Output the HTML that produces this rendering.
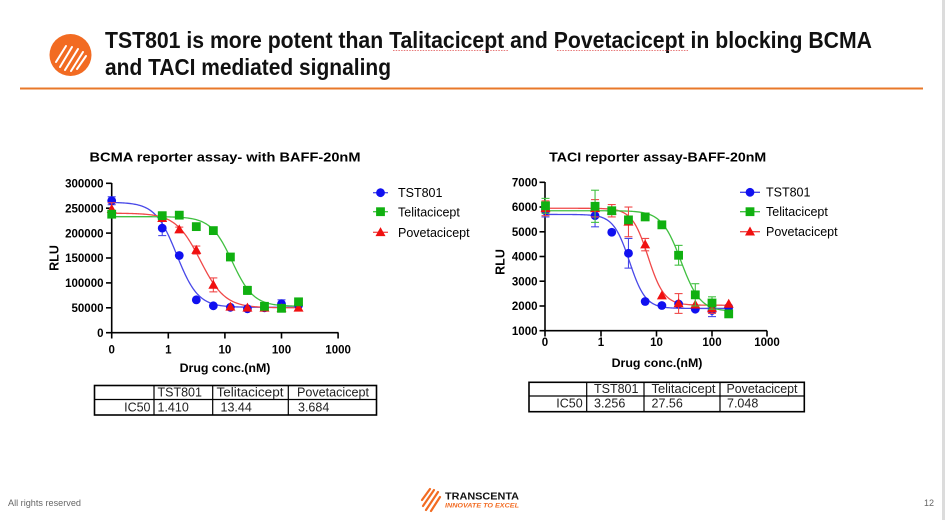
<!DOCTYPE html>
<html><head><meta charset="utf-8">
<style>
html,body{margin:0;padding:0;background:#fff;}
svg{display:block;}
text{font-family:"Liberation Sans",Arial,sans-serif;}
</style></head>
<body>
<svg id="s" width="945" height="520" viewBox="0 0 945 520" xmlns="http://www.w3.org/2000/svg">
<rect width="945" height="520" fill="#fff"/>
<!-- right border -->
<rect x="942" y="0" width="3" height="520" fill="#dcdcdc"/>

<!-- header logo -->
<circle cx="70.5" cy="55" r="21" fill="#F26B22"/>
<g stroke="#fff" stroke-width="2" stroke-linecap="round" fill="none">
  <path d="M56 62 L66 46"/>
  <path d="M60 67 L72 47"/>
  <path d="M65 70 L78 49"/>
  <path d="M71 71 L83 52"/>
  <path d="M77 69 L86 56"/>
</g>

<!-- title -->
<text x="105" y="48" font-size="23" font-weight="bold" fill="#111" textLength="767" lengthAdjust="spacingAndGlyphs">TST801 is more potent than Talitacicept and Povetacicept in blocking BCMA</text>
<text x="105" y="75" font-size="23" font-weight="bold" fill="#111" textLength="286" lengthAdjust="spacingAndGlyphs">and TACI mediated signaling</text>
<line x1="393" y1="50.5" x2="508" y2="50.5" stroke="#e05050" stroke-width="0.8" stroke-dasharray="1.5,1.2"/>
<line x1="557" y1="50.5" x2="688" y2="50.5" stroke="#e05050" stroke-width="0.8" stroke-dasharray="1.5,1.2"/>
<rect x="20" y="87.5" width="903" height="2" fill="#E8782A"/>

<!-- ========== BCMA chart ========== -->
<text x="225" y="161.5" font-size="13" font-weight="bold" text-anchor="middle" fill="#000" textLength="271" lengthAdjust="spacingAndGlyphs">BCMA reporter assay- with BAFF-20nM</text>
<g stroke="#000" stroke-width="1.6" fill="none">
  <line x1="111.7" y1="183" x2="111.7" y2="333.5"/>
  <line x1="110.9" y1="332.7" x2="338.5" y2="332.7"/>
  <line x1="106" y1="183.3" x2="111.7" y2="183.3"/>
  <line x1="106" y1="208.2" x2="111.7" y2="208.2"/>
  <line x1="106" y1="233.1" x2="111.7" y2="233.1"/>
  <line x1="106" y1="258" x2="111.7" y2="258"/>
  <line x1="106" y1="282.9" x2="111.7" y2="282.9"/>
  <line x1="106" y1="307.8" x2="111.7" y2="307.8"/>
  <line x1="106" y1="332.7" x2="111.7" y2="332.7"/>
  <line x1="111.7" y1="332.7" x2="111.7" y2="338.5"/>
  <line x1="168.3" y1="332.7" x2="168.3" y2="338.5"/>
  <line x1="224.9" y1="332.7" x2="224.9" y2="338.5"/>
  <line x1="281.5" y1="332.7" x2="281.5" y2="338.5"/>
  <line x1="338.1" y1="332.7" x2="338.1" y2="338.5"/>
</g>
<g font-size="11.5" font-weight="bold" text-anchor="end" fill="#000">
  <text x="103.5" y="187.5">300000</text>
  <text x="103.5" y="212.4">250000</text>
  <text x="103.5" y="237.3">200000</text>
  <text x="103.5" y="262.2">150000</text>
  <text x="103.5" y="287.1">100000</text>
  <text x="103.5" y="312">50000</text>
  <text x="103.5" y="336.9">0</text>
</g>
<g font-size="11.5" font-weight="bold" text-anchor="middle" fill="#000">
  <text x="111.7" y="353.5">0</text>
  <text x="168.3" y="353.5">1</text>
  <text x="224.9" y="353.5">10</text>
  <text x="281.5" y="353.5">100</text>
  <text x="338.1" y="353.5">1000</text>
</g>
<text x="225" y="372" font-size="12.4" font-weight="bold" text-anchor="middle">Drug conc.(nM)</text>
<text x="0" y="0" font-size="12.5" font-weight="bold" text-anchor="middle" transform="translate(58.5,258) rotate(-90)">RLU</text>
<g id="bcma"></g>
<!-- legend -->
<g font-size="12.5" fill="#000">
  <text x="398" y="197">TST801</text>
  <text x="398" y="216.3">Telitacicept</text>
  <text x="398" y="236.8">Povetacicept</text>
</g>
<g id="bcmaLeg"></g>

<!-- BCMA table -->
<g stroke="#000" fill="none">
  <rect x="94.5" y="385.5" width="282" height="29.5" stroke-width="1.6"/>
  <line x1="94.5" y1="399.5" x2="376.5" y2="399.5" stroke-width="1.2"/>
  <line x1="154" y1="385.5" x2="154" y2="415" stroke-width="1.2"/>
  <line x1="212.7" y1="385.5" x2="212.7" y2="415" stroke-width="1.2"/>
  <line x1="288.3" y1="385.5" x2="288.3" y2="415" stroke-width="1.2"/>
</g>
<g font-size="12.5" fill="#222">
  <text x="157.5" y="396.5">TST801</text>
  <text x="216.5" y="396.5" textLength="67" lengthAdjust="spacingAndGlyphs">Telitacicept</text>
  <text x="297" y="396.5" textLength="72" lengthAdjust="spacingAndGlyphs">Povetacicept</text>
  <text x="150.5" y="411.5" text-anchor="end">IC50</text>
  <text x="157.5" y="411.5">1.410</text>
  <text x="220.5" y="411.5">13.44</text>
  <text x="298" y="411.5">3.684</text>
</g>

<!-- ========== TACI chart ========== -->
<text x="657.7" y="161.5" font-size="13" font-weight="bold" text-anchor="middle" fill="#000" textLength="217" lengthAdjust="spacingAndGlyphs">TACI reporter assay-BAFF-20nM</text>
<g stroke="#000" stroke-width="1.6" fill="none">
  <line x1="545" y1="182" x2="545" y2="331.5"/>
  <line x1="544.2" y1="330.7" x2="767" y2="330.7"/>
  <line x1="539.5" y1="182.3" x2="545" y2="182.3"/>
  <line x1="539.5" y1="207" x2="545" y2="207"/>
  <line x1="539.5" y1="231.8" x2="545" y2="231.8"/>
  <line x1="539.5" y1="256.5" x2="545" y2="256.5"/>
  <line x1="539.5" y1="281.2" x2="545" y2="281.2"/>
  <line x1="539.5" y1="306" x2="545" y2="306"/>
  <line x1="539.5" y1="330.7" x2="545" y2="330.7"/>
  <line x1="545" y1="330.7" x2="545" y2="336.5"/>
  <line x1="601" y1="330.7" x2="601" y2="336.5"/>
  <line x1="656.5" y1="330.7" x2="656.5" y2="336.5"/>
  <line x1="712" y1="330.7" x2="712" y2="336.5"/>
  <line x1="767" y1="330.7" x2="767" y2="336.5"/>
</g>
<g font-size="11.5" font-weight="bold" text-anchor="end" fill="#000">
  <text x="537.5" y="186.5">7000</text>
  <text x="537.5" y="211.2">6000</text>
  <text x="537.5" y="236">5000</text>
  <text x="537.5" y="260.7">4000</text>
  <text x="537.5" y="285.4">3000</text>
  <text x="537.5" y="310.2">2000</text>
  <text x="537.5" y="334.9">1000</text>
</g>
<g font-size="11.5" font-weight="bold" text-anchor="middle" fill="#000">
  <text x="545" y="346">0</text>
  <text x="601" y="346">1</text>
  <text x="656.5" y="346">10</text>
  <text x="712" y="346">100</text>
  <text x="767" y="346">1000</text>
</g>
<text x="657" y="367" font-size="12.4" font-weight="bold" text-anchor="middle">Drug conc.(nM)</text>
<text x="0" y="0" font-size="12.5" font-weight="bold" text-anchor="middle" transform="translate(504.5,262) rotate(-90)">RLU</text>
<g id="taci"></g>
<g font-size="12.5" fill="#000">
  <text x="766" y="196.5">TST801</text>
  <text x="766" y="216">Telitacicept</text>
  <text x="766" y="236">Povetacicept</text>
</g>
<g id="taciLeg"></g>

<!-- TACI table -->
<g stroke="#000" fill="none">
  <rect x="529" y="382.3" width="275.3" height="29.4" stroke-width="1.6"/>
  <line x1="529" y1="396" x2="804.3" y2="396" stroke-width="1.2"/>
  <line x1="586.7" y1="382.3" x2="586.7" y2="411.7" stroke-width="1.2"/>
  <line x1="644" y1="382.3" x2="644" y2="411.7" stroke-width="1.2"/>
  <line x1="720" y1="382.3" x2="720" y2="411.7" stroke-width="1.2"/>
</g>
<g font-size="12.5" fill="#222">
  <text x="594" y="393">TST801</text>
  <text x="651.5" y="393" textLength="64" lengthAdjust="spacingAndGlyphs">Telitacicept</text>
  <text x="726.5" y="393" textLength="71" lengthAdjust="spacingAndGlyphs">Povetacicept</text>
  <text x="582.7" y="407.5" text-anchor="end">IC50</text>
  <text x="594" y="407.5">3.256</text>
  <text x="651.5" y="407.5">27.56</text>
  <text x="727" y="407.5">7.048</text>
</g>

<!-- footer -->
<text x="8" y="506" font-size="9" fill="#666" textLength="73" lengthAdjust="spacingAndGlyphs">All rights reserved</text>
<text x="924" y="506" font-size="9" fill="#666">12</text>
<g stroke="#F26B22" stroke-width="2.2" stroke-linecap="round" fill="none">
  <path d="M422 500 L430 489"/>
  <path d="M423 506 L434 490"/>
  <path d="M426 510 L438 492"/>
  <path d="M431 511 L440 497"/>
</g>
<text x="445" y="499.5" font-size="10.5" font-weight="bold" fill="#111" textLength="74" lengthAdjust="spacingAndGlyphs">TRANSCENTA</text>
<text x="445" y="507.5" font-size="6.5" font-weight="bold" font-style="italic" fill="#F26B22" textLength="74" lengthAdjust="spacingAndGlyphs">INNOVATE TO EXCEL</text>
</svg>

<script>
(function(){
var NS="http://www.w3.org/2000/svg";
var C=[0,0.78125,1.5625,3.125,6.25,12.5,25,50,100,200];
var COL={b:"#1010F0",g:"#10B010",r:"#F01010"};
var LCOL={b:"#4848E8",g:"#40C040",r:"#F04848"};
function el(p,n,a){var e=document.createElementNS(NS,n);for(var k in a)e.setAttribute(k,a[k]);p.appendChild(e);return e;}
function marker(g,t,x,y){
  if(t=="b")el(g,"circle",{cx:x,cy:y,r:4.4,fill:COL.b});
  else if(t=="g")el(g,"rect",{x:x-4.4,y:y-4.4,width:8.8,height:8.8,fill:COL.g});
  else el(g,"polygon",{points:(x)+","+(y-5.2)+" "+(x-5)+","+(y+3.8)+" "+(x+5)+","+(y+3.8),fill:COL.r});
}
function draw(id,X,Y,series,order){
  var g=document.getElementById(id);
  // curves
  series.forEach(function(s){
    var d="";
    for(var i=0;i<=160;i++){
      var lg=-1+i*(Math.log10(200)+1)/160;
      var c=Math.pow(10,lg);
      var v=s.bot+(s.top-s.bot)/(1+Math.pow(c/s.ic,s.h));
      var x=s.x0+s.dx*lg, y=Y(v);
      d+=(i?"L":"M")+x.toFixed(2)+" "+y.toFixed(2);
    }
    el(g,"path",{d:d,fill:"none",stroke:LCOL[s.t],"stroke-width":1.3});
  });
  order.forEach(function(k){
    var s=series.filter(function(q){return q.t==k;})[0];
    s.v.forEach(function(v,i){
      var x=X(C[i]),y=Y(v);
      var e=s.e[i];
      if(e){
        var y1=Y(v+e),y2=Y(v-e);
        el(g,"line",{x1:x,y1:y1,x2:x,y2:y2,stroke:LCOL[k],"stroke-width":1.1});
        el(g,"line",{x1:x-4,y1:y1,x2:x+4,y2:y1,stroke:LCOL[k],"stroke-width":1.1});
        el(g,"line",{x1:x-4,y1:y2,x2:x+4,y2:y2,stroke:LCOL[k],"stroke-width":1.1});
      }
      marker(g,k,x,y);
    });
  });
}
// BCMA
var bX=function(c){return c===0?111.7:168.3+56.6*Math.log10(c);};
var bY=function(v){return 332.7-v*149.4/300000;};
draw("bcma",bX,bY,[
 {t:"b",top:262000,bot:51000,ic:1.41,h:2.3,x0:168.3,dx:56.6,
  v:[265000,210000,155000,66000,54000,51000,48000,50000,58000,55000],
  e:[8000,15000,0,0,0,0,0,0,8000,0]},
 {t:"r",top:240000,bot:50000,ic:3.684,h:2.0,x0:168.3,dx:56.6,
  v:[248000,230000,207000,166000,96000,52000,50000,50000,49000,50000],
  e:[13000,6000,5000,8000,14000,0,0,0,0,0]},
 {t:"g",top:233000,bot:53000,ic:13.44,h:2.3,x0:168.3,dx:56.6,
  v:[238000,235000,236000,213000,205000,152000,85000,53000,49000,62000],
  e:[6000,3000,0,0,7000,0,8000,0,3000,0]}
],["b","r","g"]);
// TACI
var tX=function(c){return c===0?545.5:601+55.5*Math.log10(c);};
var tY=function(v){return 330.7-(v-1000)*148.4/6000;};
draw("taci",tX,tY,[
 {t:"b",top:5700,bot:1900,ic:3.256,h:3.0,x0:601,dx:55.5,
  v:[5850,5650,4980,4130,2180,2020,2080,1870,1820,1950],
  e:[250,450,0,600,0,0,0,0,250,0]},
 {t:"r",top:5950,bot:2030,ic:7.048,h:3.0,x0:601,dx:55.5,
  v:[5950,5950,5850,5400,4480,2420,2100,2050,1900,2080],
  e:[300,350,250,600,250,0,400,0,200,0]},
 {t:"g",top:5850,bot:1780,ic:27.56,h:2.5,x0:601,dx:55.5,
  v:[6050,6030,5850,5480,5600,5280,4050,2450,2120,1680],
  e:[300,650,0,0,0,0,400,450,250,0]}
],["b","r","g"]);
// legends
function leg(id,x1,x2,mx,ys){
  var g=document.getElementById(id);
  ["b","g","r"].forEach(function(k,i){
    el(g,"line",{x1:x1,y1:ys[i],x2:x2,y2:ys[i],stroke:LCOL[k],"stroke-width":1.3});
    marker(g,k,mx,ys[i]);
  });
}
leg("bcmaLeg",373,388,380.5,[192.7,211.7,232.3]);
leg("taciLeg",740,760,750,[192.3,211.7,231.7]);
})();
</script>
</body></html>
